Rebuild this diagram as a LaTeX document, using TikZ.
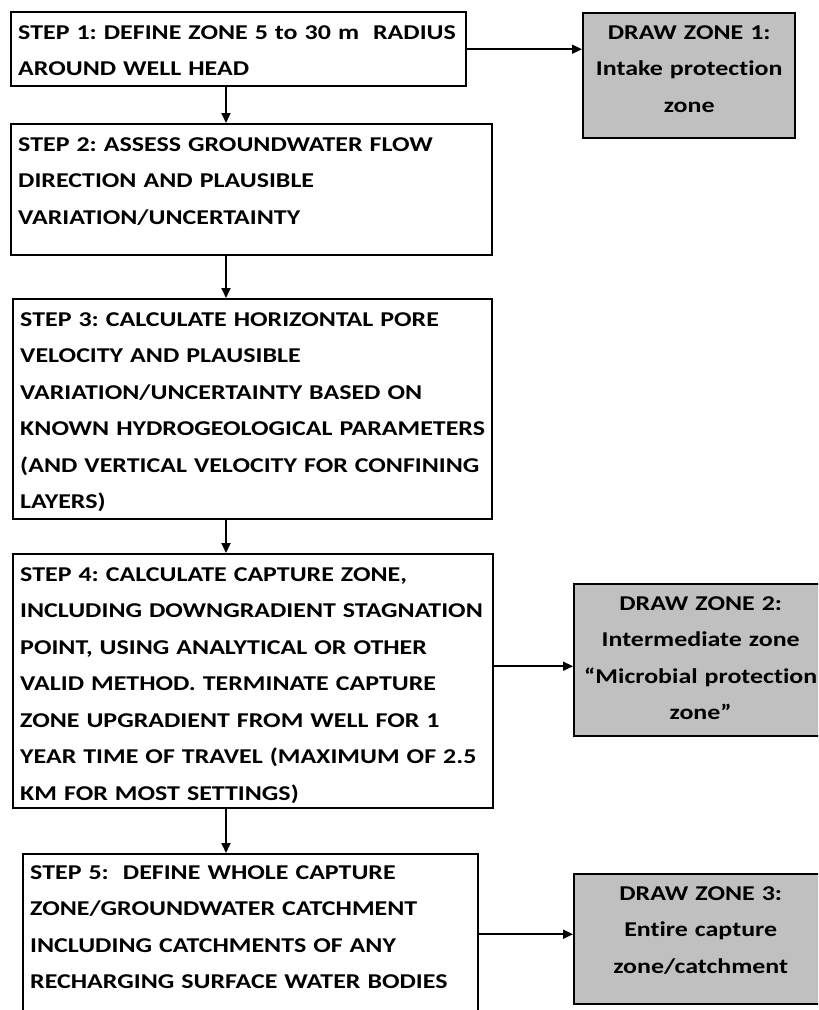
\documentclass[tikz,border=0pt]{standalone}
\usepackage{fontspec}
\setmainfont{Carlito}[FakeStretch=1.23, Ligatures=NoCommon]
\usepackage{xcolor}
\usepackage{tikz}
\usetikzlibrary{arrows.meta}

\definecolor{zonegray}{RGB}{192,192,192}
\tikzset{
  boxfont/.style={font=\frenchspacing\bfseries\fontsize{12}{20.8}\selectfont},
  stepbox/.style={draw, line width=1.4pt, anchor=north west, inner xsep=0.14cm, inner ysep=0pt,
    text height=0.54cm, align=left, boxfont},
  zonebox/.style={stepbox, fill=zonegray, align=center, text height=0.52cm},
  flow/.style={line width=1pt, -{Triangle[length=0.2cm, width=0.18cm]}}
}

\begin{document}
\begin{tikzpicture}[x=0.02cm, y=-0.02cm]
   			\useasboundingbox (0,0) rectangle (818,1010);
   			\clip (0,0) rectangle (818,1010);
   			\coordinate (spine) at (226,0);

   			\node[stepbox, text width=8.82cm, text depth=0.94cm] (box1) at (10,11)
   				{STEP 1: DEFINE ZONE 5 to 30 m\ \ RADIUS\\AROUND WELL HEAD};
   			\node[stepbox, text width=9.34cm, text depth=2.08cm] (box2) at (10,123)
   				{STEP 2: ASSESS GROUNDWATER FLOW\\DIRECTION AND PLAUSIBLE\\VARIATION/UNCERTAINTY};
   			\node[stepbox, text width=9.30cm, text depth=3.86cm] (box3) at (12,298)
   				{STEP 3: CALCULATE HORIZONTAL PORE\\VELOCITY AND PLAUSIBLE\\VARIATION/UNCERTAINTY BASED ON\\KNOWN HYDROGEOLOGICAL PARAMETERS\\(AND VERTICAL VELOCITY FOR CONFINING\\LAYERS)};
   			\node[stepbox, text width=9.32cm, text depth=4.54cm] (box4) at (12,553)
   				{STEP 4: CALCULATE CAPTURE ZONE,\\INCLUDING DOWNGRADIENT STAGNATION\\POINT, USING ANALYTICAL OR OTHER\\VALID METHOD. TERMINATE CAPTURE\\ZONE UPGRADIENT FROM WELL FOR 1\\YEAR TIME OF TRAVEL (MAXIMUM OF 2.5\\KM FOR MOST SETTINGS)};
   			\node[stepbox, text width=8.82cm, text depth=2.86cm, text height=0.50cm] (box5) at (22,853)
   				{STEP 5:\ \ DEFINE WHOLE CAPTURE\\ZONE/GROUNDWATER CATCHMENT\\INCLUDING CATCHMENTS OF ANY\\RECHARGING SURFACE WATER BODIES};

   			\node[zonebox, text width=3.96cm, text depth=1.98cm] (zone1) at (582,12)
   				{DRAW ZONE 1:\\Intake protection\\zone};
   			\node[zonebox, text width=4.78cm, text depth=2.52cm] (zone2) at (573,583)
   				{DRAW ZONE 2:\\Intermediate zone\\“Microbial protection\\zone”};
   			\node[zonebox, text width=4.78cm, text depth=2.08cm] (zone3) at (573,873)
   				{DRAW ZONE 3:\\Entire capture\\zone/catchment};

   			\foreach \a/\b in {box1/box2, box2/box3, box3/box4, box4/box5}
   				\draw[flow] (\a.south -| spine) -- (\b.north -| spine);
   			\draw[flow] (box1.east) -- (box1.east -| zone1.west);
   			\draw[flow] ([yshift=-0.12cm]zone2.west -| box4.east) -- ([yshift=-0.12cm]zone2.west);
   			\draw[flow] ([yshift=0.1cm]zone3.west -| box5.east) -- ([yshift=0.1cm]zone3.west);
   		\end{tikzpicture}
\end{document}
